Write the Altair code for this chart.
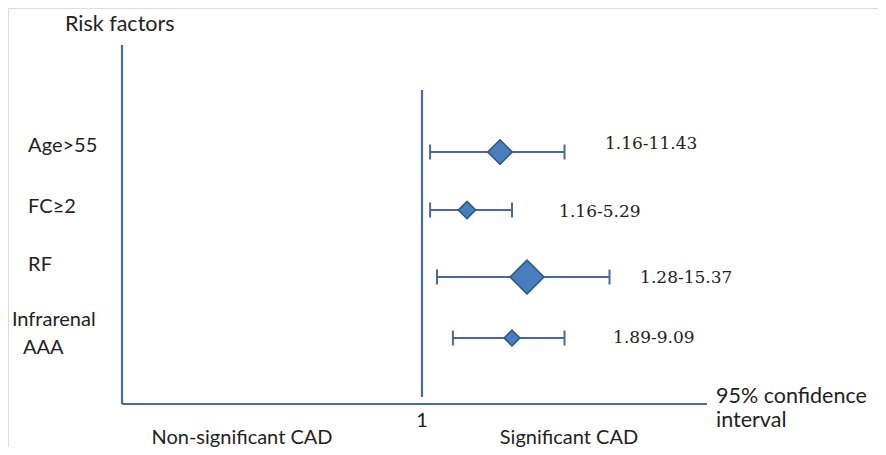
import altair as alt
import pandas as pd

# ---- data ----
factors = ["Age>55", "FC\u22652", "RF", "Infrarenal AAA"]
ci_low = [1.16, 1.16, 1.28, 1.89]
ci_high = [11.43, 5.29, 15.37, 9.09]
# positions on the drawn (schematic) horizontal scale: left axis = 0, reference line "1" = 10
pos_low = [10.27, 10.27, 10.5, 11.03]
pos_mid = [12.6, 11.5, 13.5, 13.0]
pos_high = [14.75, 13.0, 16.25, 14.75]
row_y = [25.2, 19.4, 12.7, 6.6]
marker_size = [600, 300, 1150, 250]

# label positions (same scales)
label_names = ["Age>55", "FC\u22652", "RF", "Infrarenal", "AAA"]
label_x = [-3.13, -3.13, -3.13, -3.67, -3.30]
label_y = [25.8, 19.7, 13.9, 8.4, 5.6]
ci_label_x = [16.1, 14.57, 17.27, 16.37]
ci_label_y = [26.0, 19.2, 12.6, 6.6]

ann_text = ["Risk factors", "95% confidence", "interval"]
ann_x = [-1.9, 19.8, 19.8]
ann_y = [37.9, 0.7, -1.7]

bottom_text = ["1", "Non-significant CAD", "Significant CAD"]
bottom_x = [10.0, 4.0, 14.9]
bottom_y = [-1.7, -3.35, -3.35]

axis_x0, axis_x1 = [0, 0], [0, 19.5]
axis_y0, axis_y1 = [35.9, 0], [0, 0]
ref_x, ref_top, ref_bottom = 10.0, 31.4, 0.7

W, H = 870, 439
xs = alt.Scale(domain=[-3.8, 25.2], range=[0, W], nice=False, zero=False)
ys = alt.Scale(domain=[-4.3, 39.6], range=[H, 0], nice=False, zero=False)
LINE = "#4a6a98"
TXT = "#1f1f1f"

rows = pd.DataFrame({
    "factor": factors, "lo": pos_low, "mid": pos_mid, "hi": pos_high,
    "y": row_y, "size": marker_size,
    "label": [f"{a:.2f}-{b:.2f}" for a, b in zip(ci_low, ci_high)],
    "lx": ci_label_x, "ly": ci_label_y,
})

axes_df = pd.DataFrame({"x": [axis_x0[0], axis_x1[0]], "x2": [axis_x0[1], axis_x1[1]],
                        "y": [axis_y0[0], axis_y1[0]], "y2": [axis_y0[1], axis_y1[1]]})
ref_df = pd.DataFrame({"x": [ref_x], "y": [ref_top], "y2": [ref_bottom]})

X = lambda f: alt.X(f, type="quantitative", scale=xs, axis=None)
Y = lambda f: alt.Y(f, type="quantitative", scale=ys, axis=None)

axes = alt.Chart(axes_df).mark_rule(color=LINE, strokeWidth=2.2).encode(
    x=X("x"), x2="x2", y=Y("y"), y2="y2")
ref = alt.Chart(ref_df).mark_rule(color=LINE, strokeWidth=2.2).encode(
    x=X("x"), y=Y("y"), y2="y2")

whisk = alt.Chart(rows).mark_rule(color=LINE, strokeWidth=2).encode(
    x=X("lo"), x2="hi", y=Y("y"))
caps_lo = alt.Chart(rows).transform_calculate(
    a="datum.y + 0.75", b="datum.y - 0.75").mark_rule(color=LINE, strokeWidth=2).encode(
    x=X("lo"), y=Y("a"), y2="b")
caps_hi = alt.Chart(rows).transform_calculate(
    a="datum.y + 0.75", b="datum.y - 0.75").mark_rule(color=LINE, strokeWidth=2).encode(
    x=X("hi"), y=Y("a"), y2="b")
diamonds = alt.Chart(rows).mark_point(shape="diamond", filled=True, fill="#4a7dbd",
                                      stroke="#2b5485", strokeWidth=1.5, opacity=1).encode(
    x=X("mid"), y=Y("y"), size=alt.Size("size:Q", scale=None, legend=None))

ci_text = alt.Chart(rows).mark_text(align="left", baseline="middle", font="DejaVu Serif",
                                    fontSize=17, color=TXT).encode(
    x=X("lx"), y=Y("ly"), text="label:N")

lab_df = pd.DataFrame({"t": label_names, "x": label_x, "y": label_y})
row_labels = alt.Chart(lab_df).mark_text(align="left", baseline="middle", font="Lato",
                                         fontSize=20, color=TXT).encode(
    x=X("x"), y=Y("y"), text="t:N")

ann_df = pd.DataFrame({"t": ann_text, "x": ann_x, "y": ann_y})
ann = alt.Chart(ann_df).mark_text(align="left", baseline="middle", font="Lato",
                                  fontSize=21.5, color=TXT).encode(
    x=X("x"), y=Y("y"), text="t:N")

bot_df = pd.DataFrame({"t": bottom_text, "x": bottom_x, "y": bottom_y})
bot = alt.Chart(bot_df).mark_text(align="center", baseline="middle", font="Lato",
                                  fontSize=20, color=TXT).encode(
    x=X("x"), y=Y("y"), text="t:N")

chart = alt.layer(axes, ref, whisk, caps_lo, caps_hi, diamonds, ci_text,
                  row_labels, ann, bot).properties(
    width=W, height=H, autosize=alt.AutoSizeParams(type="none"), padding=0
).configure_view(stroke=None).configure(background="white")

chart.save("out.html", embed_options={"renderer": "svg", "actions": False})
